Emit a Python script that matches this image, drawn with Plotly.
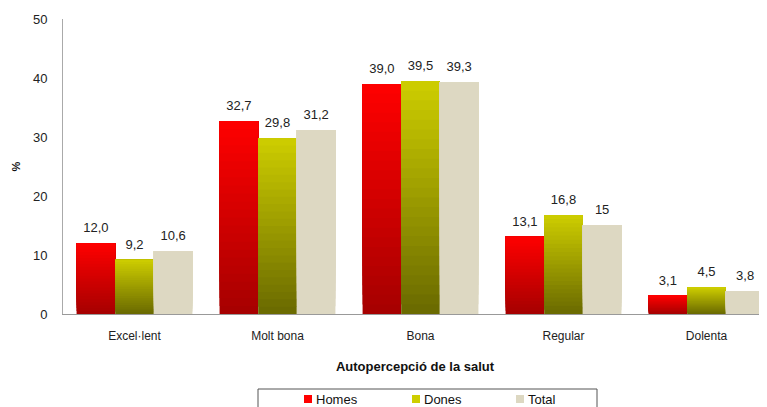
import plotly.graph_objects as go

categories = ["Excel·lent", "Molt bona", "Bona", "Regular", "Dolenta"]
homes = [12.0, 32.7, 39.0, 13.1, 3.1]
dones = [9.2, 29.8, 39.5, 16.8, 4.5]
total = [10.6, 31.2, 39.3, 15.0, 3.8]
homes_labels = ["12,0", "32,7", "39,0", "13,1", "3,1"]
dones_labels = ["9,2", "29,8", "39,5", "16,8", "4,5"]
total_labels = ["10,6", "31,2", "39,3", "15", "3,8"]

series = [
    ("Homes", homes, homes_labels, (165, 0, 0), (255, 0, 0)),
    ("Dones", dones, dones_labels, (105, 105, 0), (206, 206, 0)),
    ("Total", total, total_labels, (221, 216, 194), (221, 216, 194)),
]

# page has an 8px body margin; figure sized to fit the window
OFF = 8
W, H = 767 - OFF, 407 - OFF
ML, MR, MT, MB = 63 - OFF, 0, 19 - OFF, 93
PW, PH = W - ML - MR, H - MT - MB
CAT_PX = 143.0  # pixel width of one category slot in the reference
x_hi = -0.5 + PW / CAT_PX
GAP = 0.19

def px(x):
    return (x - OFF - ML) / PW

def py(y):
    return (H - MB - (y - OFF)) / PH

N = 24
fig = go.Figure()
for name, vals, labels, c0, c1 in series:
    for k in range(N):
        t = (k + 0.5) / N
        col = "rgb(%d,%d,%d)" % tuple(round(a + (b - a) * t) for a, b in zip(c0, c1))
        fig.add_trace(go.Bar(
            x=categories,
            y=[v * (N - k) / N for v in vals],
            base=[v * k / N for v in vals],
            offsetgroup=name,
            name=name,
            showlegend=False,
            marker=dict(color=col, line=dict(width=0)),
            hoverinfo="skip",
        ))
for name, vals, labels, c0, c1 in series:
    fig.add_trace(go.Scatter(
        x=categories, y=vals, text=labels,
        mode="markers+text", textposition="top center",
        offsetgroup=name, showlegend=False,
        marker=dict(size=11, opacity=0),
        textfont=dict(size=13, color="#222"),
        cliponaxis=False, hoverinfo="skip",
    ))

# manual legend (box partially cut off at the bottom, as in the reference)
shapes = [dict(type="rect", xref="paper", yref="paper",
               x0=px(258), x1=px(597), y0=py(430), y1=py(389),
               line=dict(color="#555", width=1), fillcolor="white", layer="below")]
annotations = []
legend_x = [304, 412, 516]
for (name, vals, labels, c0, c1), lx in zip(series, legend_x):
    shapes.append(dict(type="rect", xref="paper", yref="paper",
                       x0=px(lx), x1=px(lx + 8), y0=py(403), y1=py(395),
                       line=dict(width=0),
                       fillcolor="rgb(%d,%d,%d)" % c1))
    annotations.append(dict(text=name, xref="paper", yref="paper",
                            x=px(lx + 10), y=py(399.5), xanchor="left", yanchor="middle",
                            showarrow=False, font=dict(size=13, color="#111")))

fig.update_layout(
    width=W, height=H,
    margin=dict(l=ML, r=MR, t=MT, b=MB, autoexpand=False),
    paper_bgcolor="white", plot_bgcolor="white",
    barmode="group", bargap=GAP, bargroupgap=0,
    scattermode="group", scattergap=GAP,
    font=dict(family="Liberation Sans, Arial, sans-serif", size=12, color="#222"),
    showlegend=False,
    shapes=shapes,
    annotations=annotations,
    xaxis=dict(
        range=[-0.5, x_hi],
        showline=True, linecolor="#999", linewidth=1,
        ticks="", showgrid=False, automargin=False,
        ticklabelstandoff=11,
        tickfont=dict(size=12, color="#222"),
        title=dict(text="<b>Autopercepció de la salut</b>", font=dict(size=13, color="#111"), standoff=19),
    ),
    yaxis=dict(
        range=[0, 50], dtick=10, showline=True, linecolor="#aaa", linewidth=1,
        showgrid=False, zeroline=False, ticks="", automargin=False,
        ticklabelstandoff=12,
        tickfont=dict(size=13, color="#222"),
        title=dict(text="<b>%</b>", font=dict(size=11, color="#111"), standoff=10),
    ),
)

fig.write_html("out.html")
